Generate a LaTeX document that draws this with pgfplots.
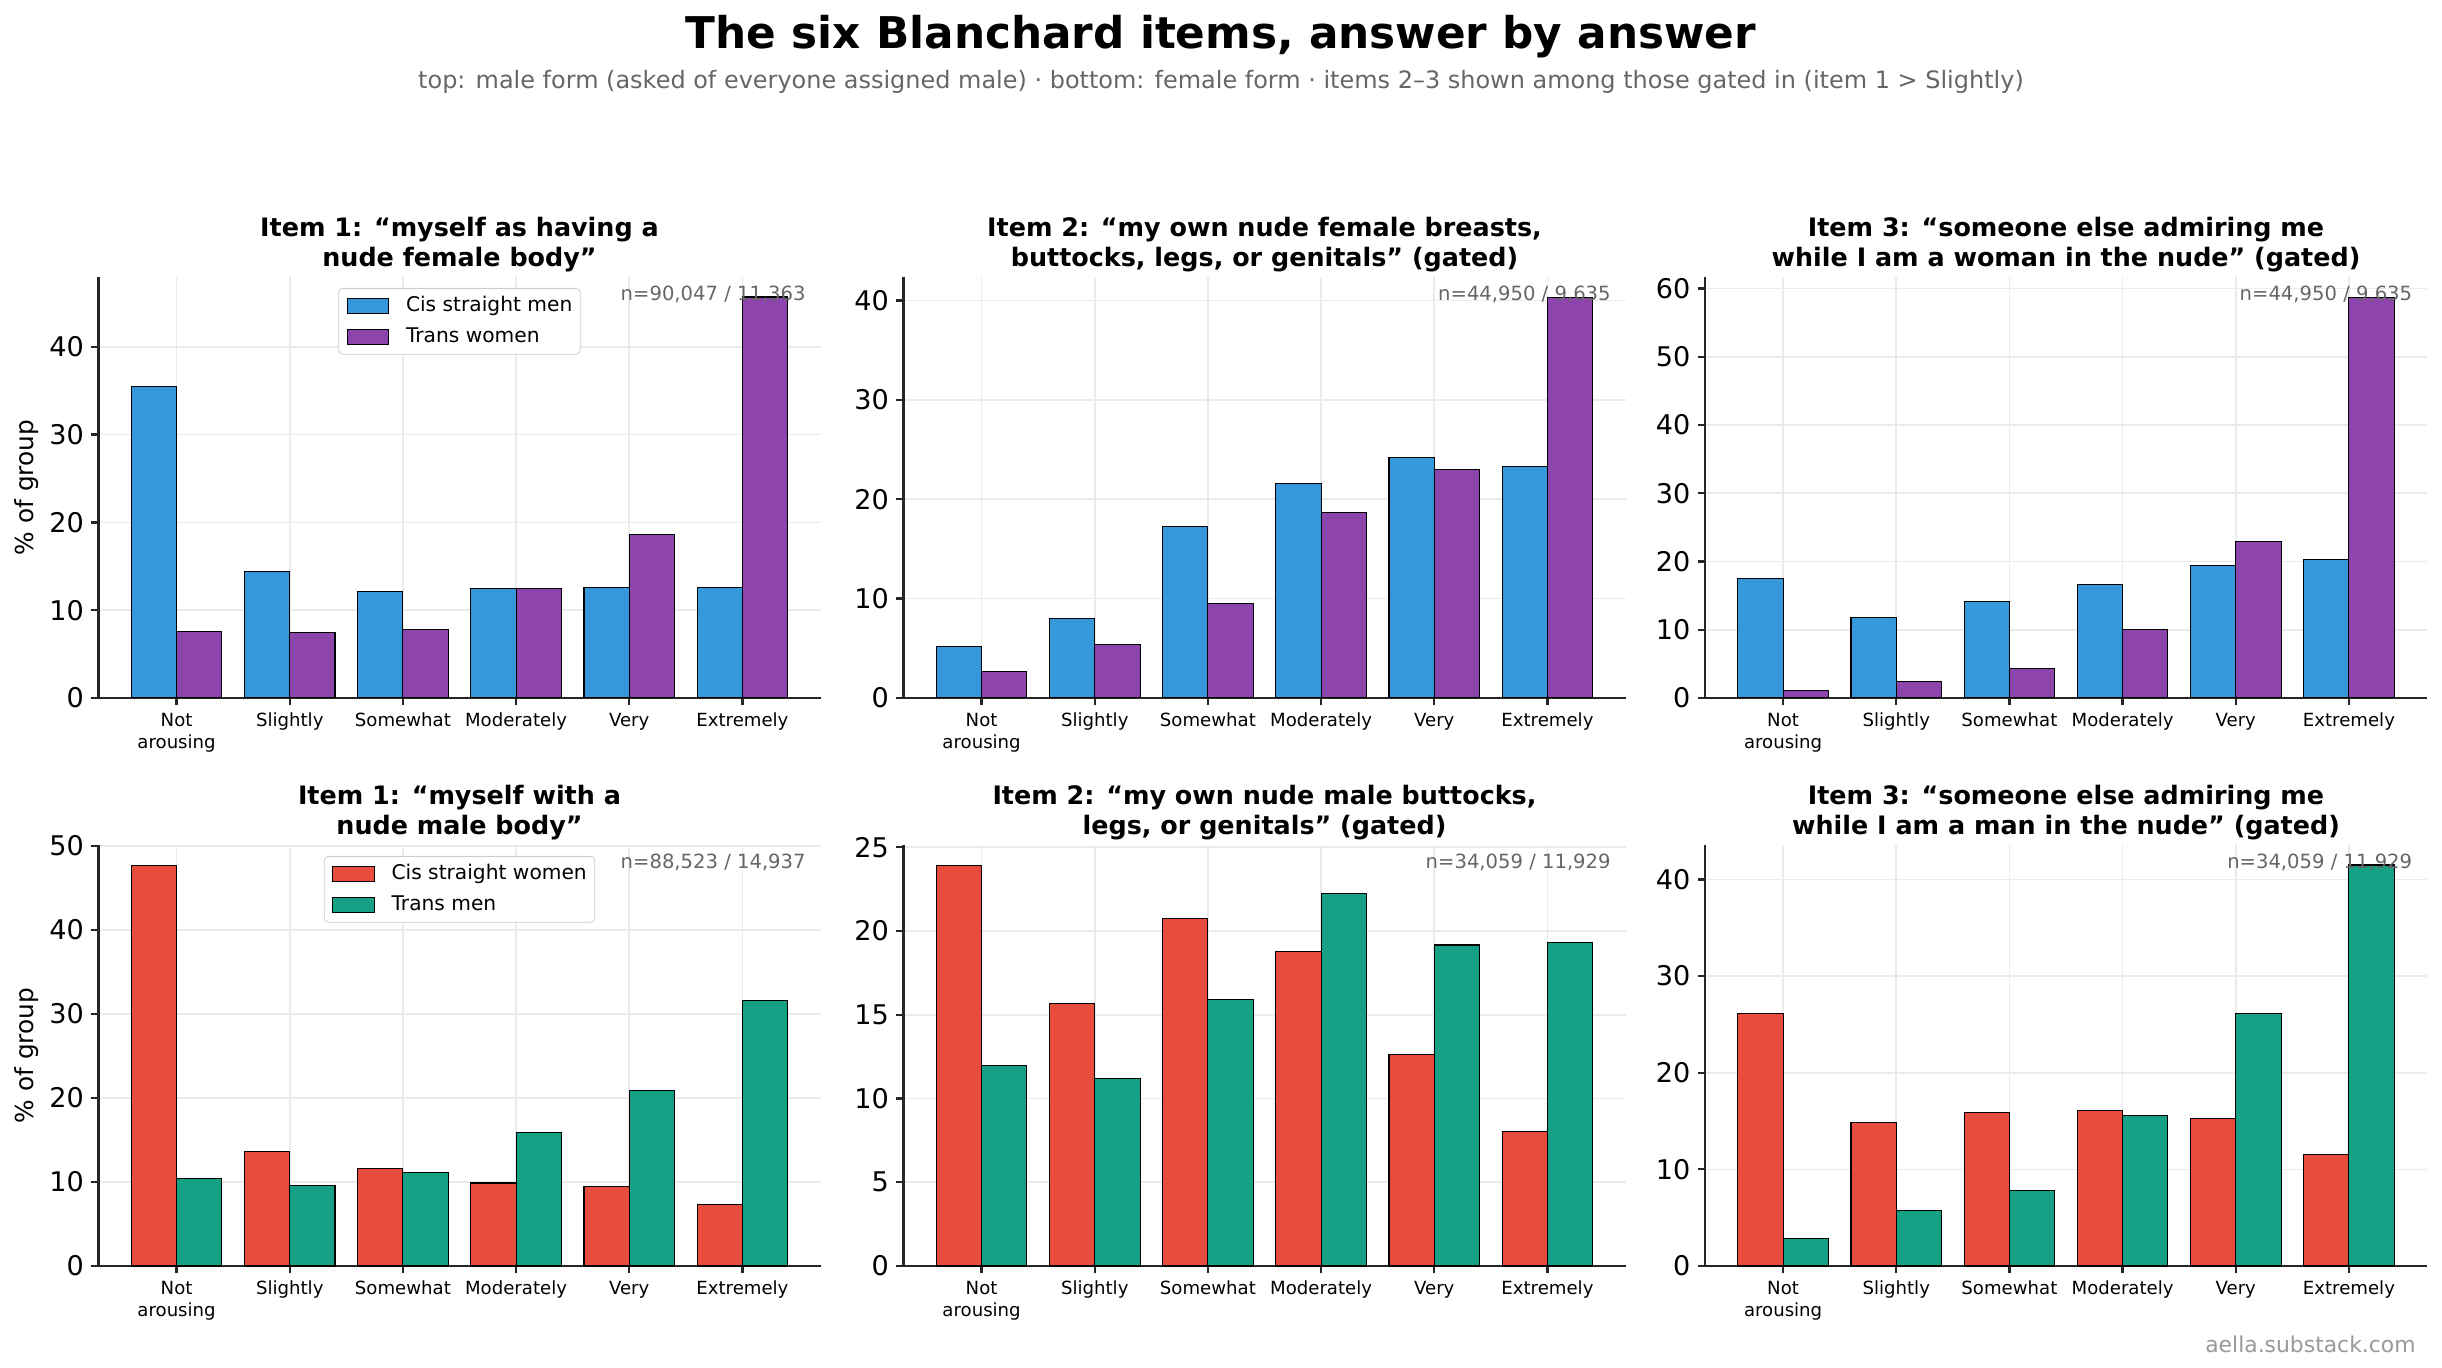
\documentclass[border=0pt]{standalone}
\usepackage{fontspec}
\setmainfont{DejaVu Sans}
\usepackage{pgfplots}
\usepackage{pgfplotstable}
\pgfplotsset{compat=1.18}

\definecolor{cmen}{HTML}{3498DB}
\definecolor{twomen}{HTML}{8E44AD}
\definecolor{cwomen}{HTML}{E74C3C}
\definecolor{tmen}{HTML}{16A085}
\definecolor{gridc}{HTML}{EBEBEB}
\definecolor{spine}{HTML}{262626}
\definecolor{note}{HTML}{666666}

% columns: answer index, group A (cis), group B (trans)
\pgfplotstableread{
x a b
0 35.46 7.59
1 14.46 7.47
2 12.09 7.85
3 12.43 12.43
4 12.64 18.62
5 12.64 45.68
}\tMaleOne
\pgfplotstableread{
x a b
0 5.21 2.66
1 8.01 5.39
2 17.23 9.55
3 21.61 18.65
4 24.23 23.00
5 23.33 40.34
}\tMaleTwo
\pgfplotstableread{
x a b
0 17.45 1.09
1 11.84 2.40
2 14.07 4.31
3 16.58 10.09
4 19.36 22.91
5 20.24 58.75
}\tMaleThree
\pgfplotstableread{
x a b
0 47.73 10.44
1 13.68 9.60
2 11.64 11.18
3 9.88 15.86
4 9.51 20.87
5 7.37 31.63
}\tFemaleOne
\pgfplotstableread{
x a b
0 23.93 11.95
1 15.67 11.19
2 20.74 15.93
3 18.77 22.23
4 12.63 19.16
5 8.00 19.30
}\tFemaleTwo
\pgfplotstableread{
x a b
0 26.17 2.82
1 14.80 5.77
2 15.85 7.82
3 16.05 15.56
4 15.24 26.17
5 11.49 41.49
}\tFemaleThree

\tikzset{ntext/.style={anchor=north east, inner sep=0pt, text=note, font=\fontsize{9.4}{11.3}\selectfont}}

\pgfplotsset{
  panel/.style={
    scale only axis, width=346.56pt, height=202.08pt,
    xmin=-0.69, xmax=5.69, ymin=0,
    axis x line*=bottom, axis y line*=left,
    axis line style={-, draw=spine, line width=1.1pt},
    tick align=outside, major tick length=3.5pt,
    tick style={draw=spine, line width=1.1pt},
    xtick={0,1,2,3,4,5},
    xticklabels={{Not\\arousing},Slightly,Somewhat,Moderately,Very,Extremely},
    xticklabel style={font=\fontsize{8.7}{10.7}\selectfont, align=center, anchor=north, inner sep=0pt, yshift=-3.4pt},
    yticklabel style={font=\fontsize{13}{15}\selectfont, anchor=east, inner sep=0pt, xshift=-3.3pt},
    /pgf/number format/assume math mode=true,
    grid=major, major grid style={draw=gridc, line width=0.8pt},
    every axis title/.style={at={(0.5,1)}, anchor=south, inner sep=0pt, yshift=2.4pt,
      align=center, font=\bfseries\fontsize{12.2}{14.3}\selectfont},
    ylabel style={font=\fontsize{11.9}{14}\selectfont,
      at={([xshift=-34.6pt]axis description cs:0,0.5)}, anchor=center},
    legend style={at={(0.5,0.974)}, anchor=north, draw=black!20, rounded corners=2pt,
      fill=white, font=\fontsize{9.7}{11.6}\selectfont,
      inner xsep=3.8pt, inner ysep=3.6pt, row sep=5.2pt,
      nodes={inner sep=0pt, text height=7.4pt, text depth=2.2pt, anchor=base west},
      /tikz/every odd column/.append style={column sep=8pt}},
    legend cell align=left,
  },
  mybar/.style={ybar, bar width=0.4, draw=black, line width=0.5pt,
    legend image code/.code={\draw[##1, sharp corners] (0pt,-1.1pt) rectangle (20pt,6.1pt);}},
}

\begin{document}
\begin{tikzpicture}
\path[use as bounding box] (0,0) rectangle (1172.16pt,656.16pt);

% overall heading
\node[anchor=base, font=\bfseries\fontsize{21}{25}\selectfont] at (586.08pt,632.8pt)
  {The six Blanchard items, answer by answer};
\node[anchor=base, text=note, font=\fontsize{11.5}{13.8}\selectfont] at (586.08pt,613.6pt)
  {top: male form (asked of everyone assigned male) · bottom: female form · items 2–3 shown among those gated in (item 1 > Slightly)};

% ---------- top row: male form ----------
\begin{axis}[panel, at={(47.28pt,321.12pt)}, ymax=47.96, ytick={0,10,20,30,40},
  ylabel={\% of group},
  title={Item 1: “myself as having a\\nude female body”}]
  \addplot[mybar, bar shift=-0.2, fill=cmen] table[x=x,y=a] {\tMaleOne};
  \addplot[mybar, bar shift=0.2, fill=twomen] table[x=x,y=b] {\tMaleOne};
  \legend{Cis straight men, Trans women}
  \node[ntext] at (rel axis cs:0.98,0.98) {n=90,047 / 11,363};
\end{axis}

\begin{axis}[panel, at={(433.68pt,321.12pt)}, ymax=42.36, ytick={0,10,20,30,40},
  title={Item 2: “my own nude female breasts,\\buttocks, legs, or genitals” (gated)}]
  \addplot[mybar, bar shift=-0.2, fill=cmen] table[x=x,y=a] {\tMaleTwo};
  \addplot[mybar, bar shift=0.2, fill=twomen] table[x=x,y=b] {\tMaleTwo};
  \node[ntext] at (rel axis cs:0.98,0.98) {n=44,950 / 9,635};
\end{axis}

\begin{axis}[panel, at={(818.4pt,321.12pt)}, ymax=61.69, ytick={0,10,20,30,40,50,60},
  title={Item 3: “someone else admiring me\\while I am a woman in the nude” (gated)}]
  \addplot[mybar, bar shift=-0.2, fill=cmen] table[x=x,y=a] {\tMaleThree};
  \addplot[mybar, bar shift=0.2, fill=twomen] table[x=x,y=b] {\tMaleThree};
  \node[ntext] at (rel axis cs:0.98,0.98) {n=44,950 / 9,635};
\end{axis}

% ---------- bottom row: female form ----------
\begin{axis}[panel, at={(47.28pt,48.48pt)}, ymax=50.12, ytick={0,10,20,30,40,50},
  ylabel={\% of group},
  title={Item 1: “myself with a\\nude male body”}]
  \addplot[mybar, bar shift=-0.2, fill=cwomen] table[x=x,y=a] {\tFemaleOne};
  \addplot[mybar, bar shift=0.2, fill=tmen] table[x=x,y=b] {\tFemaleOne};
  \legend{Cis straight women, Trans men}
  \node[ntext] at (rel axis cs:0.98,0.98) {n=88,523 / 14,937};
\end{axis}

\begin{axis}[panel, at={(433.68pt,48.48pt)}, ymax=25.13, ytick={0,5,10,15,20,25},
  title={Item 2: “my own nude male buttocks,\\legs, or genitals” (gated)}]
  \addplot[mybar, bar shift=-0.2, fill=cwomen] table[x=x,y=a] {\tFemaleTwo};
  \addplot[mybar, bar shift=0.2, fill=tmen] table[x=x,y=b] {\tFemaleTwo};
  \node[ntext] at (rel axis cs:0.98,0.98) {n=34,059 / 11,929};
\end{axis}

\begin{axis}[panel, at={(818.4pt,48.48pt)}, ymax=43.56, ytick={0,10,20,30,40},
  title={Item 3: “someone else admiring me\\while I am a man in the nude” (gated)}]
  \addplot[mybar, bar shift=-0.2, fill=cwomen] table[x=x,y=a] {\tFemaleThree};
  \addplot[mybar, bar shift=0.2, fill=tmen] table[x=x,y=b] {\tFemaleThree};
  \node[ntext] at (rel axis cs:0.98,0.98) {n=34,059 / 11,929};
\end{axis}

\node[anchor=base east, text=black!40, font=\fontsize{10.5}{12.6}\selectfont] at (1163pt,7.2pt)
  {aella.substack.com};
\end{tikzpicture}
\end{document}
